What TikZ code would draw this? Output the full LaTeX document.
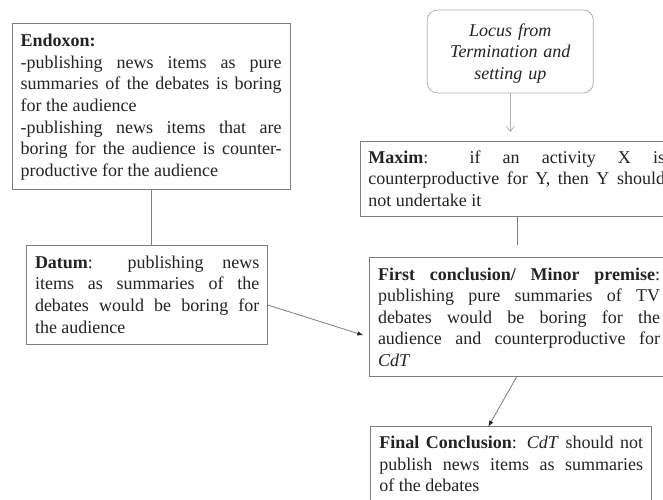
\documentclass[tikz,border=0pt]{standalone}
\usepackage{fontspec}
\setmainfont{Liberation Serif}
\usetikzlibrary{arrows.meta}
\definecolor{boxgray}{RGB}{125,125,125}
\definecolor{softgray}{RGB}{175,175,175}
\definecolor{inkc}{RGB}{35,35,35}
\tikzset{
  box/.style={draw=boxgray, line width=0.8pt, align=justify, inner ysep=0pt,
    outer sep=0pt, anchor=north west, text=inkc,
    font=\fontsize{18}{21.6}\selectfont},
  locusbox/.style={draw=softgray, line width=0.8pt, rounded corners=10pt,
    align=center, inner ysep=0pt, outer sep=0pt, anchor=north west, text=inkc,
    font=\fontsize{18}{21.6}\selectfont\itshape},
  conn/.style={draw=boxgray, line width=0.8pt},
  softconn/.style={draw=softgray, line width=0.8pt},
  filltip/.style={-{Latex[length=6pt,width=4.5pt,color=inkc]}},
  bartip/.style={-{Straight Barb[length=5pt,width=8pt]}}
}
\begin{document}
\begin{tikzpicture}[x=1pt,y=-1pt]
\useasboundingbox (0,0) rectangle (663,499);
\fill[white] (0,0) rectangle (663,499);
\clip (0,0) rectangle (663,499);

\node[box, inner xsep=8.4pt, text width=260.9pt, text height=23.4pt, text depth=142.3pt]
  (endoxon) at (12.3,23.3)
  {\textbf{Endoxon:}\\
   -publishing news items as pure\linebreak summaries of the debates is boring\linebreak for the audience\\
   -publishing news items that are\linebreak boring for the audience is counter-\linebreak productive for the audience};

\node[box, inner xsep=8.3pt, text width=224.4pt, text height=23.3pt, text depth=75.7pt]
  (datum) at (26.7,245)
  {\textbf{Datum}: publishing news\linebreak items as summaries of the\linebreak debates would be boring for\linebreak the audience};

\node[locusbox, inner xsep=8pt, text width=150pt, text height=26pt, text depth=57pt]
  (locus) at (427.3,10)
  {Locus from\\Termination and\\setting up};

\node[box, inner xsep=8.3pt, text width=296.7pt, text height=22.3pt, text depth=53.4pt]
  (maxim) at (360,141)
  {\textbf{Maxim}: if an activity X is\linebreak counterproductive for Y, then Y should\linebreak not undertake it};

\node[box, inner xsep=9pt, text width=282pt, text height=22.7pt, text depth=96.7pt]
  (first) at (369,257.3)
  {\textbf{First conclusion/ Minor premise}:\linebreak publishing pure summaries of TV\linebreak debates would be boring for the\linebreak audience and counterproductive for\linebreak \textit{CdT}};

\node[box, inner xsep=8.6pt, text width=263.8pt, text height=21.7pt, text depth=70pt]
  (final) at (370.7,426.7)
  {\textbf{Final Conclusion}: \textit{CdT} should not\linebreak publish news items as summaries\linebreak of the debates};

% connectors
\draw[conn] (endoxon.south) -- (endoxon.south |- datum.north);
\draw[softconn, bartip, shorten >=9pt] (locus.south) -- (locus.south |- maxim.north);
\coordinate (mx) at (517.3,245);
\draw[conn] (mx |- maxim.south) -- (mx);
\draw[conn, filltip, shorten >=6pt] (datum.east |- 0,305) -- (first.west |- 0,337);
\coordinate (fa) at (516.7,0);
\coordinate (fb) at (488.3,0);
\draw[conn, filltip] (fa |- first.south) -- (fb |- final.north);
\end{tikzpicture}
\end{document}
